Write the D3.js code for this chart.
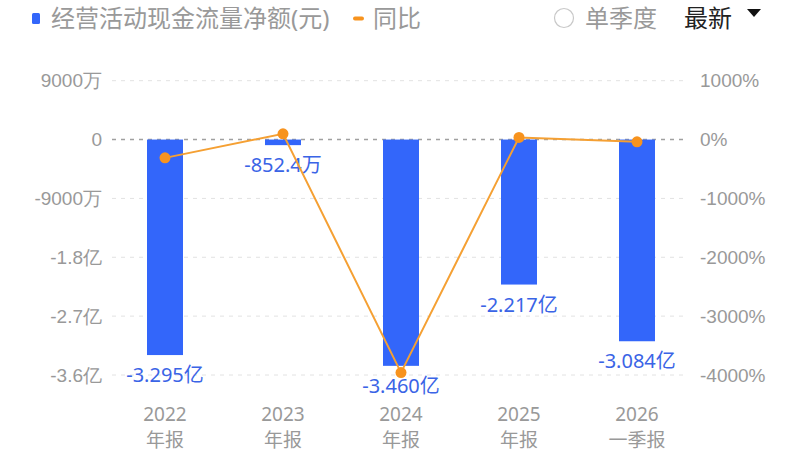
<!DOCTYPE html>
<html>
<head>
<meta charset="utf-8">
<script src="https://cdn.jsdelivr.net/npm/d3@7"></script>
<style>
  body { margin: 0; background: #fff; }
  svg { display: block; font-family: "Noto Sans", "Noto Sans CJK SC", sans-serif; }
</style>
</head>
<body>
<div id="chart"></div>
<script>
// data
var years = ["2022", "2023", "2024", "2025", "2026"];
var periods = ["年报", "年报", "年报", "年报", "一季报"];
var cashFlow = [-3.295e8, -8.524e6, -3.460e8, -2.217e8, -3.084e8];
var cashLabels = ["-3.295亿", "-852.4万", "-3.460亿", "-2.217亿", "-3.084亿"];
var yoy = [-311, 97.4, -3959, 35.9, -39];
var leftTicks = [9e7, 0, -9e7, -1.8e8, -2.7e8, -3.6e8];
var leftTickLabels = ["9000万", "0", "-9000万", "-1.8亿", "-2.7亿", "-3.6亿"];
var rightTicks = [1000, 0, -1000, -2000, -3000, -4000];

var W = 800, H = 455;
var plotTop = 80.7, plotBottom = 375;

var svg = d3.select("#chart").append("svg")
  .attr("width", W).attr("height", H);

var x = d3.scaleBand().domain(years).range([106, 696]);
var y = d3.scaleLinear().domain([9e7, -3.6e8]).range([plotTop, plotBottom]);
var yr = d3.scaleLinear().domain([1000, -4000]).range([plotTop, plotBottom]);
var cx = function (d) { return x(d) + x.bandwidth() / 2; };

// grid lines
svg.append("g").selectAll("line")
  .data(leftTicks)
  .enter().append("line")
  .attr("x1", 112).attr("x2", 685)
  .attr("y1", function (d) { return y(d); })
  .attr("y2", function (d) { return y(d); })
  .attr("stroke", function (d) { return d === 0 ? "#a0a0a0" : "#e2e2e2"; })
  .attr("stroke-width", function (d) { return d === 0 ? 1.5 : 1; })
  .attr("stroke-dasharray", "4,5");

// left axis
var gl = svg.append("g")
  .attr("transform", "translate(102,0)")
  .call(d3.axisLeft(y).tickValues(leftTicks).tickSize(0).tickPadding(0)
    .tickFormat(function (d, i) { return leftTickLabels[i]; }));
gl.select(".domain").remove();
gl.selectAll("text").attr("fill", "#999").style("font-size", "19px").attr("font-family", null);

// right axis
var gr = svg.append("g")
  .attr("transform", "translate(700,0)")
  .call(d3.axisRight(yr).tickValues(rightTicks).tickSize(0).tickPadding(0)
    .tickFormat(function (d) { return d + "%"; }));
gr.select(".domain").remove();
gr.selectAll("text").attr("fill", "#999").style("font-size", "19px").attr("font-family", null);

// bars
var barW = 36;
svg.append("g").selectAll("rect")
  .data(years)
  .enter().append("rect")
  .attr("x", function (d) { return cx(d) - barW / 2; })
  .attr("y", y(0))
  .attr("width", barW)
  .attr("height", function (d, i) { return y(cashFlow[i]) - y(0); })
  .attr("fill", "#3366fa");

// bar labels
svg.append("g").selectAll("text")
  .data(years)
  .enter().append("text")
  .attr("x", cx)
  .attr("y", function (d, i) { return y(cashFlow[i]) + 27; })
  .attr("text-anchor", "middle")
  .attr("fill", "#3a64e6")
  .style("font-size", "20px")
  .text(function (d, i) { return cashLabels[i]; });

// yoy line
var line = d3.line()
  .x(function (d, i) { return cx(years[i]); })
  .y(function (d) { return yr(d); });
svg.append("path")
  .datum(yoy)
  .attr("d", line)
  .attr("fill", "none")
  .attr("stroke", "#f5a033")
  .attr("stroke-width", 2);
svg.append("g").selectAll("circle")
  .data(yoy)
  .enter().append("circle")
  .attr("cx", function (d, i) { return cx(years[i]); })
  .attr("cy", function (d) { return yr(d); })
  .attr("r", 5.5)
  .attr("fill", "#f7931e");

// category labels (two lines each)
var catG = svg.append("g")
  .attr("text-anchor", "middle")
  .attr("fill", "#999")
  .style("font-size", "19px");
catG.selectAll(".yr")
  .data(years)
  .enter().append("text")
  .attr("class", "yr")
  .attr("x", cx).attr("y", 421)
  .text(function (d) { return d; });
catG.selectAll(".pd")
  .data(years)
  .enter().append("text")
  .attr("class", "pd")
  .attr("x", cx).attr("y", 447)
  .text(function (d, i) { return periods[i]; });

// legend
var lg = svg.append("g");
lg.append("rect").attr("x", 32).attr("y", 13).attr("width", 8).attr("height", 11)
  .attr("rx", 1.5).attr("fill", "#3366fa");
lg.append("text").attr("x", 51).attr("y", 27).attr("fill", "#999")
  .style("font-size", "24px").text("经营活动现金流量净额(元)");
lg.append("line").attr("x1", 355).attr("x2", 362).attr("y1", 18.5).attr("y2", 18.5)
  .attr("stroke", "#f7931e").attr("stroke-width", 4).attr("stroke-linecap", "round");
lg.append("text").attr("x", 373).attr("y", 27).attr("fill", "#999")
  .style("font-size", "24px").text("同比");

// top right controls
lg.append("circle").attr("cx", 564).attr("cy", 18).attr("r", 9.5)
  .attr("fill", "none").attr("stroke", "#c8c8c8").attr("stroke-width", 1.2);
lg.append("text").attr("x", 585).attr("y", 27).attr("fill", "#999")
  .style("font-size", "24px").text("单季度");
lg.append("text").attr("x", 684).attr("y", 27).attr("fill", "#222")
  .style("font-size", "24px").text("最新");
lg.append("path").attr("d", "M747,9L761,9L754,17Z").attr("fill", "#111");
</script>
</body>
</html>
